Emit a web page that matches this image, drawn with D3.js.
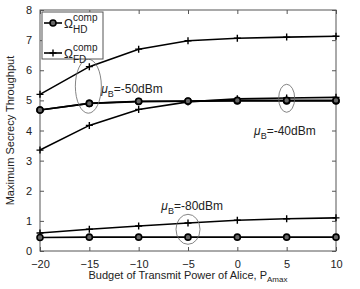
<!DOCTYPE html>
<html>
<head>
<meta charset="utf-8">
<script src="https://cdn.jsdelivr.net/npm/d3@7"></script>
<style>
  html, body { margin: 0; padding: 0; background: #fff; overflow: hidden; }
  svg { display: block; }
  text { font-family: "Liberation Sans", Arial, sans-serif; fill: #222; }
</style>
</head>
<body>
<svg width="360" height="289"></svg>
<script>
const svg = d3.select('svg');

// data
const xValues = [-20, -15, -10, -5, 0, 5, 10];
const hd50 = [4.68, 4.9, 4.97, 4.98, 5.0, 5.0, 5.0];
const fd50 = [5.2, 6.12, 6.7, 6.98, 7.06, 7.1, 7.13];
const hd40 = [4.68, 4.9, 4.96, 4.97, 4.98, 4.98, 4.98];
const fd40 = [3.35, 4.17, 4.7, 4.95, 5.05, 5.08, 5.1];
const hd80 = [0.45, 0.46, 0.46, 0.46, 0.46, 0.46, 0.46];
const fd80 = [0.6, 0.72, 0.83, 0.93, 1.02, 1.07, 1.1];
const xTicks = [-20, -15, -10, -5, 0, 5, 10];
const yTicks = [0, 1, 2, 3, 4, 5, 6, 7, 8];

const series = [
  { values: fd50, marker: 'plus' },
  { values: fd40, marker: 'plus' },
  { values: fd80, marker: 'plus' },
  { values: hd40, marker: 'circle' },
  { values: hd50, marker: 'circle' },
  { values: hd80, marker: 'circle' }
];

const margin = { top: 10, right: 24, bottom: 38, left: 40 };
const width = 360, height = 289;
const innerWidth = width - margin.left - margin.right;
const innerHeight = height - margin.top - margin.bottom;

const xScale = d3.scaleLinear().domain([-20, 10]).range([0, innerWidth]);
const yScale = d3.scaleLinear().domain([0, 8]).range([innerHeight, 0]);

const g = svg.append('g')
  .attr('transform', `translate(${margin.left},${margin.top})`);

// axes, matlab style: ticks inside on all four sides
const axisColor = '#555';
const styleAxis = sel => {
  sel.selectAll('.domain').remove();
  sel.selectAll('line').attr('stroke', axisColor);
  sel.selectAll('text').style('font-size', '11px').attr('fill', '#222');
};
const noLabels = sel => sel.selectAll('text').remove();

g.append('g')
  .attr('transform', `translate(0,${innerHeight})`)
  .call(d3.axisBottom(xScale).tickValues(xTicks).tickSize(-4).tickPadding(9))
  .call(styleAxis);
g.append('g')
  .call(d3.axisTop(xScale).tickValues(xTicks).tickSize(-4))
  .call(styleAxis)
  .call(noLabels);
g.append('g')
  .call(d3.axisLeft(yScale).tickValues(yTicks).tickSize(-4).tickPadding(8))
  .call(styleAxis);
g.append('g')
  .attr('transform', `translate(${innerWidth},0)`)
  .call(d3.axisRight(yScale).tickValues(yTicks).tickSize(-4))
  .call(styleAxis)
  .call(noLabels);

g.append('rect')
  .attr('width', innerWidth)
  .attr('height', innerHeight)
  .attr('fill', 'none')
  .attr('stroke', axisColor)
  .attr('stroke-width', 1);

// lines
const line = d3.line()
  .x((d, i) => xScale(xValues[i]))
  .y(d => yScale(d));

const drawMarker = (sel, type) => {
  if (type === 'circle') {
    sel.append('circle')
      .attr('r', 3)
      .attr('fill', '#666')
      .attr('stroke', '#000')
      .attr('stroke-width', 1.6);
  } else {
    sel.append('path')
      .attr('d', 'M-3.5,0H3.5M0,-3.5V3.5')
      .attr('stroke', '#000')
      .attr('stroke-width', 1.4);
  }
};

series.forEach(s => {
  g.append('path')
    .datum(s.values)
    .attr('d', line)
    .attr('fill', 'none')
    .attr('stroke', '#000')
    .attr('stroke-width', 1.6);
  g.selectAll(null)
    .data(s.values)
    .enter().append('g')
      .attr('transform', (d, i) => `translate(${xScale(xValues[i])},${yScale(d)})`)
      .each(function() { drawMarker(d3.select(this), s.marker); });
});

// ellipses and annotations
const ellipses = [
  { x: -15.1, y: 5.47, rx: 13, ry: 27 },
  { x: 5, y: 5.07, rx: 8, ry: 14 },
  { x: -5, y: 0.72, rx: 12, ry: 15 }
];
g.selectAll('ellipse').data(ellipses).enter().append('ellipse')
  .attr('cx', d => xScale(d.x))
  .attr('cy', d => yScale(d.y))
  .attr('rx', d => d.rx)
  .attr('ry', d => d.ry)
  .attr('fill', 'none')
  .attr('stroke', '#666')
  .attr('stroke-width', 0.8);

const labels = [
  { x: -13.8, y: 5.25, text: '-50dBm' },
  { x: 1.7, y: 3.85, text: '-40dBm' },
  { x: -7.7, y: 1.35, text: '-80dBm' }
];
labels.forEach(l => {
  const t = g.append('text')
    .attr('x', xScale(l.x))
    .attr('y', yScale(l.y))
    .style('font-size', '12px');
  t.append('tspan').text('μ').style('font-style', 'italic');
  t.append('tspan').text('B').attr('dy', 4).style('font-size', '9px');
  t.append('tspan').text('=' + l.text).attr('dy', -4);
});

// legend
const legend = svg.append('g').attr('transform', 'translate(42,12)');
legend.append('rect')
  .attr('width', 61).attr('height', 47)
  .attr('fill', '#fff').attr('stroke', axisColor);
const legendItems = [
  { marker: 'circle', sub: 'HD', y: 11 },
  { marker: 'plus', sub: 'FD', y: 41 }
];
legendItems.forEach(it => {
  const row = legend.append('g').attr('transform', `translate(0,${it.y})`);
  row.append('line').attr('x1', 2).attr('x2', 20)
    .attr('stroke', '#000').attr('stroke-width', 1.6);
  drawMarker(row.append('g').attr('transform', 'translate(11,0)'), it.marker);
  const t = row.append('text').attr('x', 22).attr('y', 5).style('font-size', '12px');
  t.append('tspan').text('Ω');
  t.append('tspan').text('comp').attr('dy', -7).style('font-size', '10px');
  t.append('tspan').text(it.sub).attr('x', 31).attr('dy', 12).style('font-size', '10px');
});

// axis titles
svg.append('text')
  .attr('transform', `translate(14,${margin.top + innerHeight / 2}) rotate(-90)`)
  .attr('text-anchor', 'middle')
  .style('font-size', '11px')
  .text('Maximum Secrecy Throughput');

const xl = svg.append('text')
  .attr('x', margin.left + innerWidth / 2)
  .attr('y', 279)
  .attr('text-anchor', 'middle')
  .style('font-size', '11px');
xl.append('tspan').text('Budget of Transmit Power of Alice, P');
xl.append('tspan').text('Amax').attr('dy', 3).style('font-size', '8px');
</script>
</body>
</html>
